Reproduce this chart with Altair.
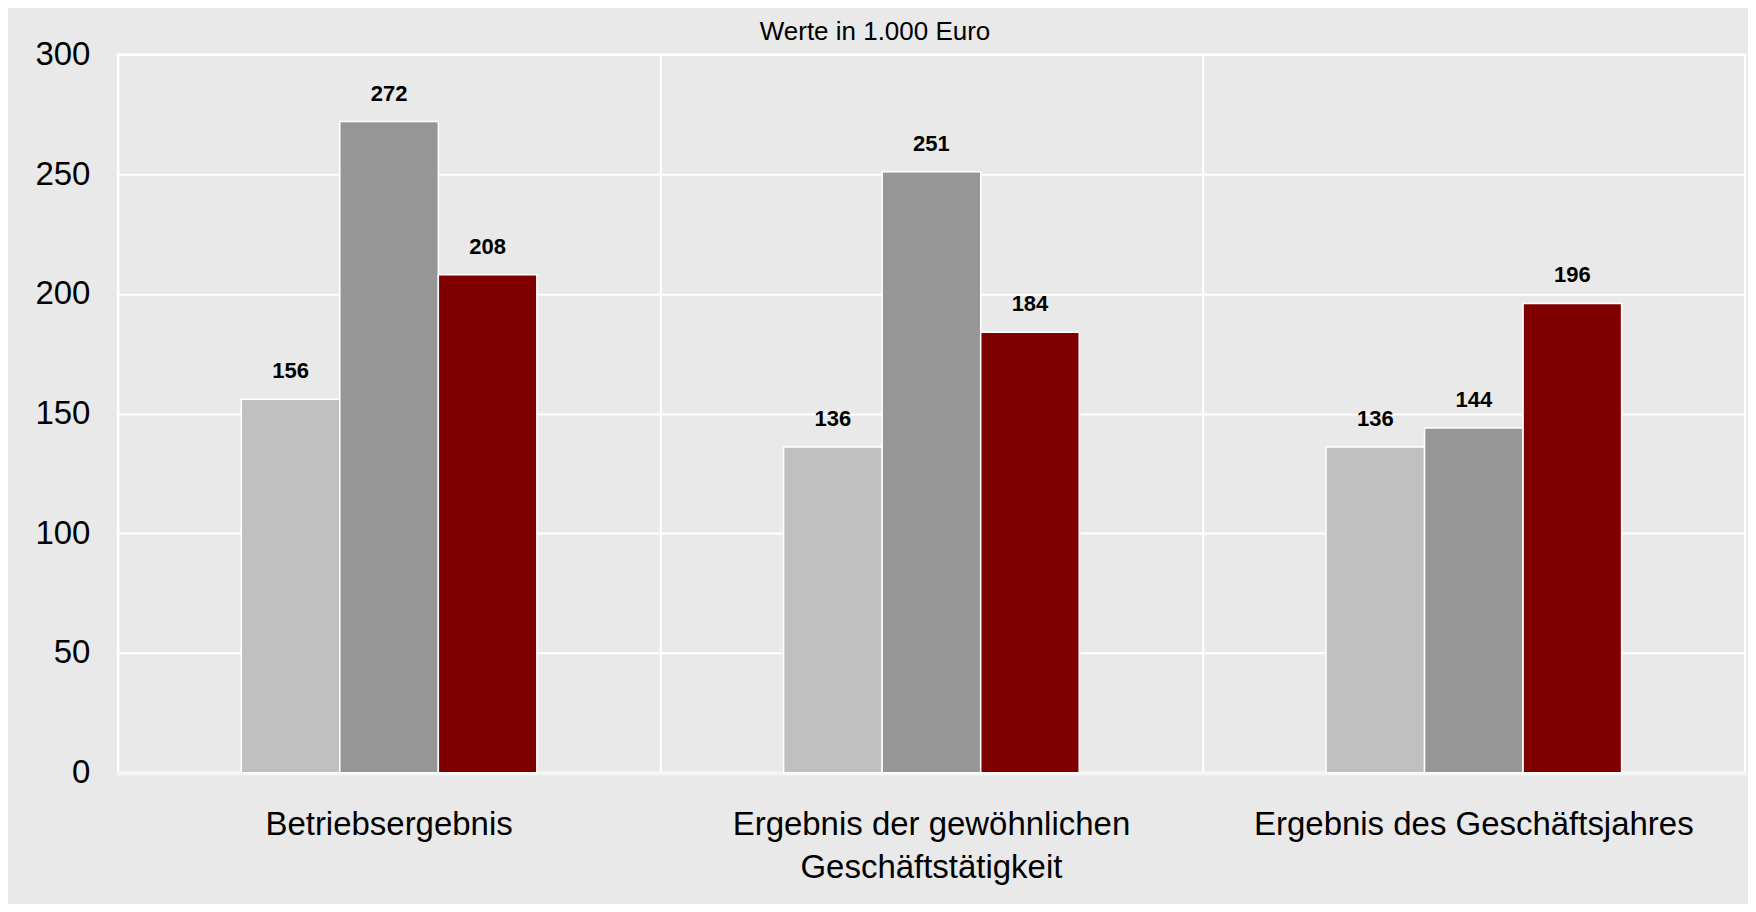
import altair as alt
import pandas as pd

categories = ["Betriebsergebnis",
              "Ergebnis der gewöhnlichen Geschäftstätigkeit",
              "Ergebnis des Geschäftsjahres"]
series = ["Reihe 1", "Reihe 2", "Reihe 3"]
values_s1 = [156, 136, 136]
values_s2 = [272, 251, 144]
values_s3 = [208, 184, 196]
colors = ["#C0C0C0", "#969696", "#800000"]
y_ticks = [0, 50, 100, 150, 200, 250, 300]
title_text = ["Werte in 1.000 Euro"]

rows = []
for i, c in enumerate(categories):
    for s, vals in zip(series, [values_s1, values_s2, values_s3]):
        rows.append({"Kategorie": c, "Reihe": s, "Wert": vals[i]})
df = pd.DataFrame(rows)

FONT = "Liberation Sans"
PI = 0.455  # fraction of each category step left empty

x_enc = alt.X("Kategorie:N", sort=categories,
              scale=alt.Scale(paddingInner=PI, paddingOuter=PI / 2),
              axis=alt.Axis(title=None, labelAngle=0, labelFontSize=33, labelFont=FONT,
                            labelColor="#000000", labelPadding=36, labelLineHeight=43,
                            labelExpr="datum.label == 'Ergebnis der gewöhnlichen Geschäftstätigkeit' ? ['Ergebnis der gewöhnlichen', 'Geschäftstätigkeit'] : datum.label",
                            ticks=False, domain=True, domainColor="#F4F5F4",
                            domainWidth=4, domainCap="round",
                            grid=True, gridColor="#FFFFFF", gridWidth=2,
                            bandPosition=-(PI / 2) / (1 - PI),
                            labelLimit=600))
xoff = alt.XOffset("Reihe:N", sort=series,
                   scale=alt.Scale(paddingInner=0, paddingOuter=0))
y_enc = alt.Y("Wert:Q", scale=alt.Scale(domain=[0, 300], nice=False),
              axis=alt.Axis(title=None, values=y_ticks, labelFontSize=33, labelFont=FONT,
                            labelColor="#000000", labelPadding=28, ticks=False, domain=False,
                            grid=True, gridColor="#FFFFFF", gridWidth=2))

bars = alt.Chart(df).mark_bar(stroke="#FFFFFF", strokeWidth=1.5).encode(
    x=x_enc, xOffset=xoff, y=y_enc,
    color=alt.Color("Reihe:N", sort=series,
                    scale=alt.Scale(domain=series, range=colors), legend=None),
)

labels = alt.Chart(df).mark_text(dy=-21, baseline="alphabetic", align="center",
                                 fontSize=22, fontWeight="bold", font=FONT,
                                 color="#000000").encode(
    x=alt.X("Kategorie:N", sort=categories), xOffset=xoff,
    y=alt.Y("Wert:Q"), text=alt.Text("Wert:Q"),
)

title = alt.Chart(pd.DataFrame({"t": title_text})).mark_text(
    baseline="alphabetic", align="center", fontSize=26, font=FONT, color="#000000"
).encode(text="t:N", x=alt.value(758), y=alt.value(-14))

chart = alt.layer(bars, labels, title).properties(
    width=1629, height=719,
    background="#E8E9E8",
    padding={"left": 110, "top": 46, "right": 3, "bottom": 131},
    autosize=alt.AutoSizeParams(type="none"),
).configure_view(stroke="#FFFFFF", strokeWidth=2)

chart.save("out.html", embed_options={"renderer": "svg", "actions": False})
